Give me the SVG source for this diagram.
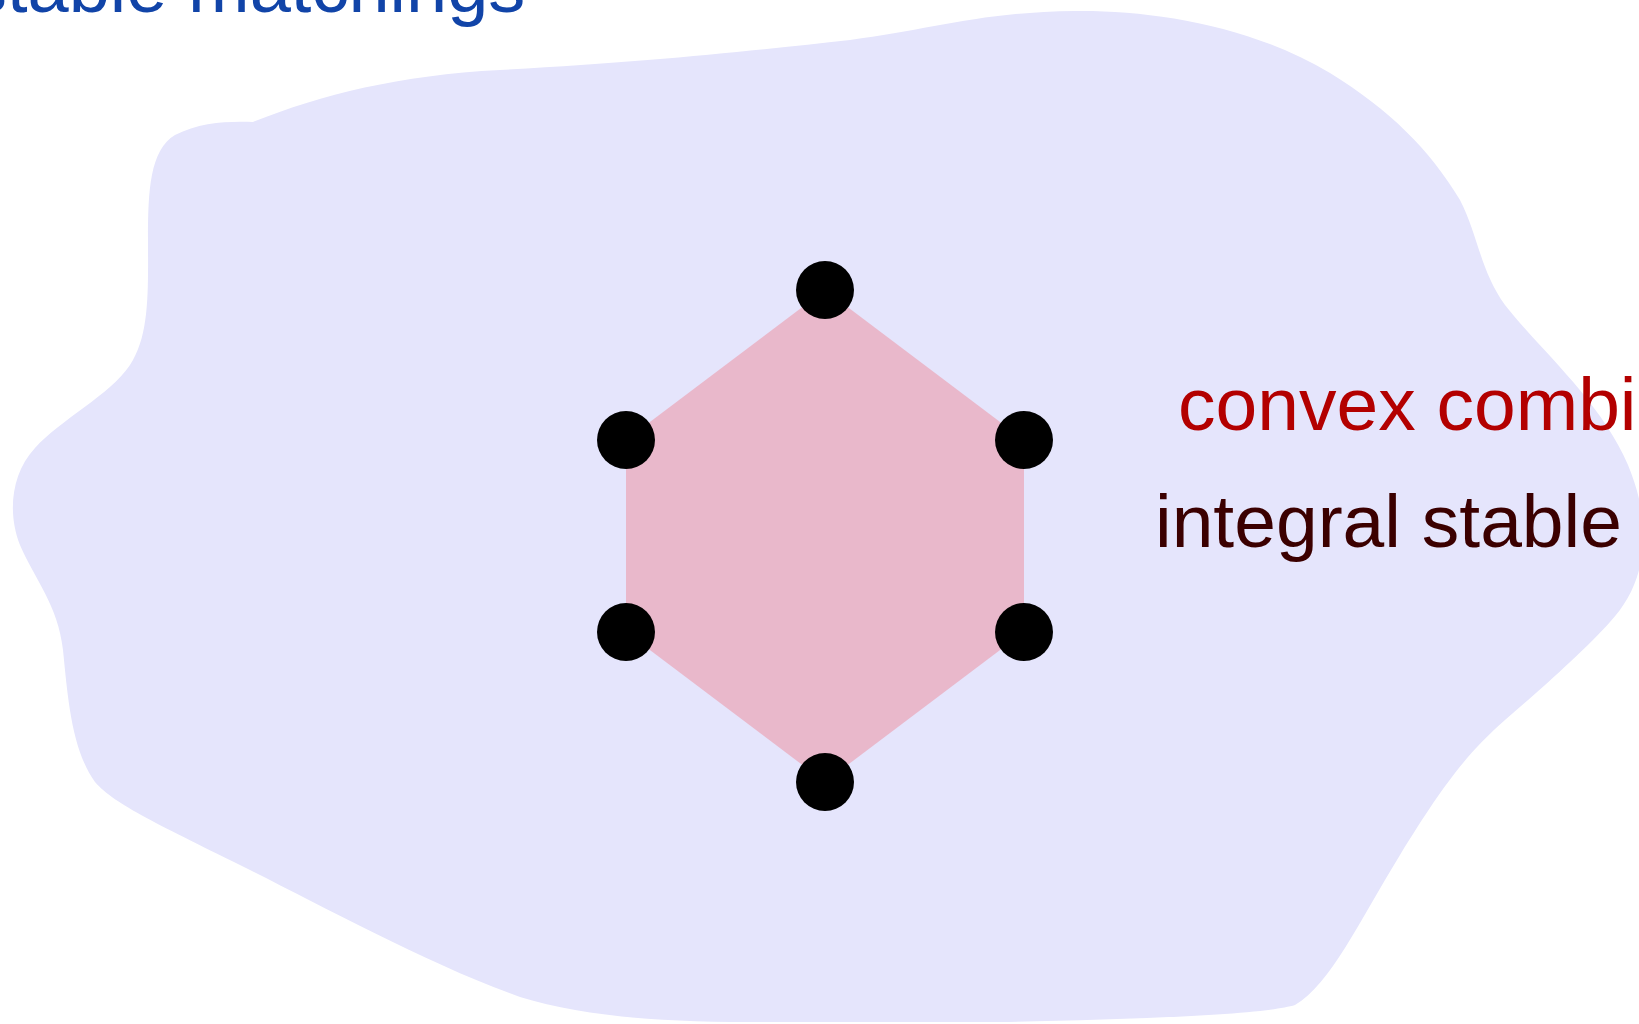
<svg xmlns="http://www.w3.org/2000/svg" width="1639" height="1024" viewBox="0 0 1639 1024">
  <style>
    .lbl { font-family: "Liberation Sans", Arial, sans-serif; font-size: 75px; }
    .dot { fill: #000000; }
  </style>
  <rect width="1639" height="1024" fill="#ffffff"/>
  <g id="blob">
    <path fill="#E5E5FC" d="M 253,122 C 320,95 400,75 500,70 C 650,62 760,50 850,40 C 930,30 980,12 1075,11 C 1150,10 1250,25 1330,73 C 1390,110 1430,150 1460,200 C 1478,235 1480,270 1505,305 C 1540,350 1600,400 1628,465 C 1655,530 1645,585 1610,622 C 1585,650 1540,690 1505,720 C 1465,755 1440,790 1400,855 C 1360,920 1330,985 1295,1005 C 1260,1016 1100,1020 1000,1022 L 750,1022 C 650,1022 580,1015 520,997 C 430,965 320,905 250,870 C 160,825 115,805 95,782 C 72,750 68,700 63,650 C 58,605 35,580 20,545 C 8,515 10,475 35,448 C 60,420 110,395 130,365 C 150,335 148,290 148,240 C 148,190 150,150 175,135 C 200,122 230,121 253,122 Z"/>
  </g>
  <g id="title">
    <text class="lbl" x="-30" y="12" fill="#1144A8" style="font-size:74px">stable matchings</text>
  </g>
  <g id="polytope">
    <polygon fill="#E9B8CB" points="825,290 1024,440 1024,632 825,782 626,632 626,440"/>
  </g>
  <g id="vertices">
    <circle id="v1" class="dot" cx="825" cy="290" r="29"/>
    <circle id="v2" class="dot" cx="1024" cy="440" r="29"/>
    <circle id="v3" class="dot" cx="1024" cy="632" r="29"/>
    <circle id="v4" class="dot" cx="825" cy="782" r="29"/>
    <circle id="v5" class="dot" cx="626" cy="632" r="29"/>
    <circle id="v6" class="dot" cx="626" cy="440" r="29"/>
  </g>
  <g id="labels">
    <text id="convex" class="lbl" x="1178" y="430" fill="#B30000">convex combin</text>
    <text id="integral" class="lbl" x="1155" y="547" fill="#3B0000">integral stable</text>
  </g>
  <g id="connectors"></g>
</svg>
